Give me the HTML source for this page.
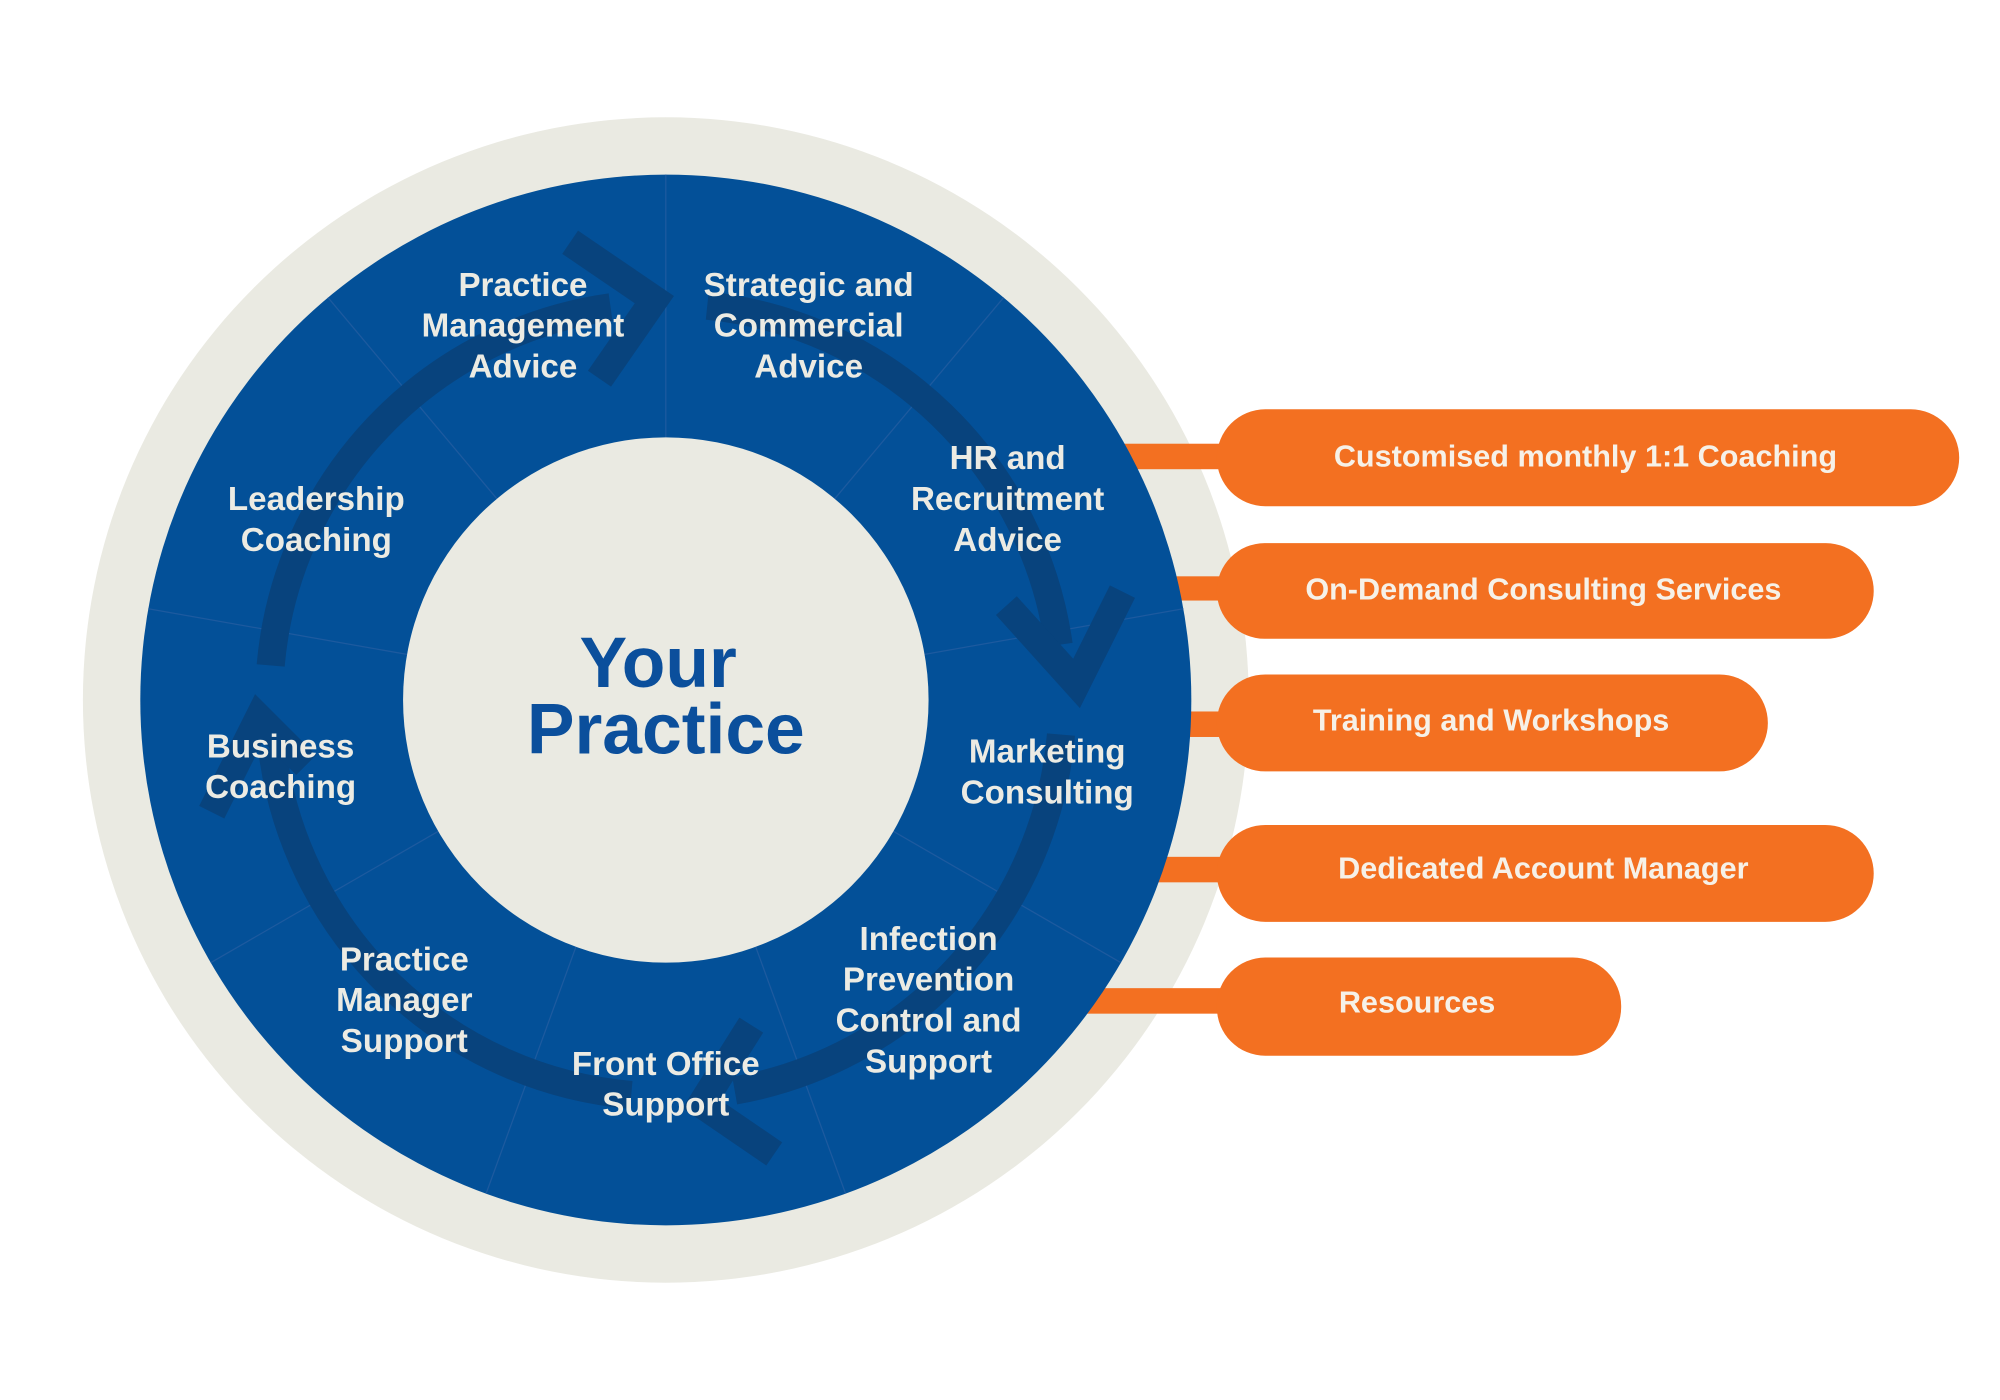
<!DOCTYPE html>
<html><head><meta charset="utf-8"><style>
html,body{margin:0;padding:0;background:#fff;}
svg{display:block;}
text{font-family:"Liberation Sans",sans-serif;font-weight:bold;}
</style></head><body>
<svg width="2000" height="1400" viewBox="0 0 1568 1098" preserveAspectRatio="none" xmlns="http://www.w3.org/2000/svg">
<rect width="1568" height="1098" fill="#fff"/>
<circle cx="522" cy="549" r="457" fill="#eaeae2"/>
<g fill="#f37021">
<rect x="840" y="348" width="160" height="20"/>
<rect x="840" y="452" width="160" height="19"/>
<rect x="840" y="558" width="160" height="20"/>
<rect x="840" y="672" width="160" height="20"/>
<rect x="840" y="775" width="160" height="20"/>
<rect x="954" y="321" width="582" height="76" rx="38"/>
<rect x="954" y="426" width="515" height="75" rx="37.5"/>
<rect x="954" y="529" width="432" height="76" rx="38"/>
<rect x="954" y="647" width="515" height="76" rx="38"/>
<rect x="954" y="751" width="317" height="77" rx="38"/>
</g>
<circle cx="522" cy="549" r="412" fill="#035098"/>
<g stroke="#1d5a9f" stroke-width="1">
<line x1="522" y1="343" x2="522" y2="137" transform="rotate(0 522 549)"/>
<line x1="522" y1="343" x2="522" y2="137" transform="rotate(40 522 549)"/>
<line x1="522" y1="343" x2="522" y2="137" transform="rotate(80 522 549)"/>
<line x1="522" y1="343" x2="522" y2="137" transform="rotate(120 522 549)"/>
<line x1="522" y1="343" x2="522" y2="137" transform="rotate(160 522 549)"/>
<line x1="522" y1="343" x2="522" y2="137" transform="rotate(200 522 549)"/>
<line x1="522" y1="343" x2="522" y2="137" transform="rotate(240 522 549)"/>
<line x1="522" y1="343" x2="522" y2="137" transform="rotate(280 522 549)"/>
<line x1="522" y1="343" x2="522" y2="137" transform="rotate(320 522 549)"/>
</g>
<g fill="none" stroke="#08437d" stroke-width="22" stroke-linejoin="miter">
<path d="M212.2 521.9 A311 311 0 0 1 478.7 241.0"/>
<polyline points="447,190 513,235 470,297"/>
<path d="M554.5 239.7 A311 311 0 0 1 830.0 505.7"/>
<polyline points="789,475 844,536 880,464"/>
<path d="M831.8 576.1 A311 311 0 0 1 576.0 855.3"/>
<polyline points="589,804 550,866 607,905"/>
<path d="M494.9 858.8 A311 311 0 0 1 213.3 586.9"/>
<polyline points="240,600 203,563 166,637"/>
</g>
<circle cx="522" cy="549" r="206" fill="#eaeae2"/>
<g fill="#ecebe3" font-size="26" text-anchor="middle">
<text x="410" y="232">Practice</text><text x="410" y="264">Management</text><text x="410" y="296">Advice</text>
<text x="634" y="232">Strategic and</text><text x="634" y="264">Commercial</text><text x="634" y="296">Advice</text>
<text x="790" y="368">HR and</text><text x="790" y="400">Recruitment</text><text x="790" y="432">Advice</text>
<text x="248" y="400">Leadership</text><text x="248" y="432">Coaching</text>
<text x="220" y="594">Business</text><text x="220" y="626">Coaching</text>
<text x="821" y="598">Marketing</text><text x="821" y="630">Consulting</text>
<text x="317" y="761">Practice</text><text x="317" y="793">Manager</text><text x="317" y="825">Support</text>
<text x="522" y="843">Front Office</text><text x="522" y="875">Support</text>
<text x="728" y="745">Infection</text><text x="728" y="777">Prevention</text><text x="728" y="809">Control and</text><text x="728" y="841">Support</text>
</g>
<g fill="#0b4f9c" font-size="56" text-anchor="middle">
<text x="516" y="539">Your</text><text x="522" y="591">Practice</text>
</g>
<g fill="#f6f1e8" font-size="24" text-anchor="middle">
<text x="1243" y="366">Customised monthly 1:1 Coaching</text>
<text x="1210" y="470">On-Demand Consulting Services</text>
<text x="1169" y="573">Training and Workshops</text>
<text x="1210" y="689">Dedicated Account Manager</text>
<text x="1111" y="794">Resources</text>
</g>
</svg>
</body></html>
